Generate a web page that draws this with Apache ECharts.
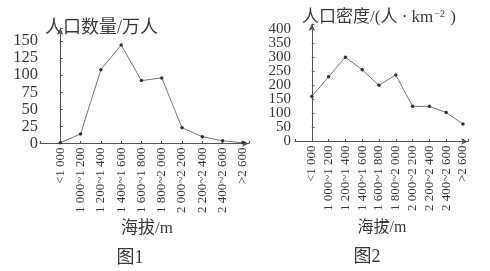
<!DOCTYPE html>
<html>
<head>
<meta charset="utf-8">
<script src="https://cdn.jsdelivr.net/npm/echarts@6/dist/echarts.min.js"></script>
<style>html,body{margin:0;padding:0;background:#fff}#c{width:490px;height:271px}</style>
</head>
<body>
<div id="c"></div>
<script>
const categories = ['<1 000','1 000~1 200','1 200~1 400','1 400~1 600','1 600~1 800','1 800~2 000','2 000~2 200','2 200~2 400','2 400~2 600','>2 600'];
const population = [1, 14, 108, 144, 92, 96, 23, 10, 4, 1];
const density = [160, 230, 300, 255, 200, 237, 125, 125, 103, 62];
const popTickMax = 150, popInterval = 25;
const denTickMax = 400, denInterval = 50;

const FONT = "Liberation Serif, Times New Roman, serif";
const CJK = "Liberation Serif, Noto Sans CJK SC, serif";
const TXT = '#3a3a3a';
const AX = '#555';

const chart = echarts.init(document.getElementById('c'), null, {renderer: 'canvas'});
function xAxisCfg(gi) {
  return {
    type: 'value', gridIndex: gi, min: -1, max: 9.3, interval: 1,
    axisLine: {show: true, lineStyle: {color: AX, width: 1}, symbol: ['none', 'arrow'], symbolSize: [5, 7]},
    axisTick: {show: true, inside: true, length: 2.5, lineStyle: {color: AX}},
    splitLine: {show: false},
    axisLabel: {
      rotate: 90, margin: 4, fontFamily: FONT, fontSize: 13, color: TXT,
      formatter: v => (Number.isInteger(v) && v >= 0 && v < categories.length) ? categories[v] : ''
    }
  };
}
function yAxisCfg(gi, max, interval, tickMax, fs, margin, showMin) {
  return {
    type: 'value', gridIndex: gi, position: 'left', min: 0, max: max, interval: interval,
    axisLine: {show: true, lineStyle: {color: AX, width: 1}, symbol: ['none', 'arrow'], symbolSize: [5, 7]},
    axisTick: {show: true, inside: true, length: 2.5, lineStyle: {color: AX}},
    splitLine: {show: false},
    axisLabel: {margin: margin, fontFamily: FONT, fontSize: fs, color: TXT, showMinLabel: showMin, hideOverlap: false,
      formatter: v => v <= tickMax ? String(v) : ''}
  };
}
const lineSeries = (idx, arr) => ({
  type: 'line', xAxisIndex: idx, yAxisIndex: idx,
  data: arr.map((v, i) => [i, v]),
  lineStyle: {color: '#777', width: 1},
  symbol: 'circle', symbolSize: 3.5,
  itemStyle: {color: '#333'},
  animation: false
});
chart.setOption({
  backgroundColor: '#fff',
  animation: false,
  grid: [
    {left: 40, top: 28, width: 209, height: 115.5},
    {left: 295, top: 24, width: 173, height: 117.5}
  ],
  xAxis: [xAxisCfg(0), xAxisCfg(1)],
  yAxis: [
    yAxisCfg(0, 169, popInterval, popTickMax, 16.5, 2, true),
    yAxisCfg(1, 418, denInterval, denTickMax, 15, 4, false),
    {
      type: 'value', gridIndex: 1, position: 'left', offset: 0, min: 0, max: 418, interval: denInterval,
      axisLine: {show: false}, axisTick: {show: false}, splitLine: {show: false},
      axisLabel: {margin: 4, fontFamily: FONT, fontSize: 15, color: TXT, showMinLabel: true,
        formatter: v => v === 0 ? '0' : ''}
    }
  ],
  series: [lineSeries(0, population), lineSeries(1, density)],
  graphic: [
    {type: 'text', style: {text: '人口数量/万人', x: 45, y: 28, textAlign: 'left', textVerticalAlign: 'middle', fontSize: 18, fontFamily: CJK, fill: TXT}},
    {type: 'text', style: {text: '人口密度/(人 · km{s|−2} )', x: 302, y: 18, textAlign: 'left', textVerticalAlign: 'middle', fontSize: 17, fontFamily: CJK, fill: TXT,
      rich: {s: {fontSize: 10, fontFamily: FONT, verticalAlign: 'top', padding: [0, 1, 8, 1], fill: TXT}}}},
    {type: 'text', style: {text: '海拔/m', x: 147, y: 229, textAlign: 'center', textVerticalAlign: 'middle', fontSize: 17, fontFamily: CJK, fill: TXT}},
    {type: 'text', style: {text: '海拔/m', x: 382, y: 228, textAlign: 'center', textVerticalAlign: 'middle', fontSize: 16, fontFamily: CJK, fill: TXT}},
    {type: 'text', style: {text: '图1', x: 130, y: 258, textAlign: 'center', textVerticalAlign: 'middle', fontSize: 18, fontFamily: CJK, fill: TXT}},
    {type: 'text', style: {text: '图2', x: 367, y: 257, textAlign: 'center', textVerticalAlign: 'middle', fontSize: 18, fontFamily: CJK, fill: TXT}}
  ]
});
</script>
</body>
</html>
